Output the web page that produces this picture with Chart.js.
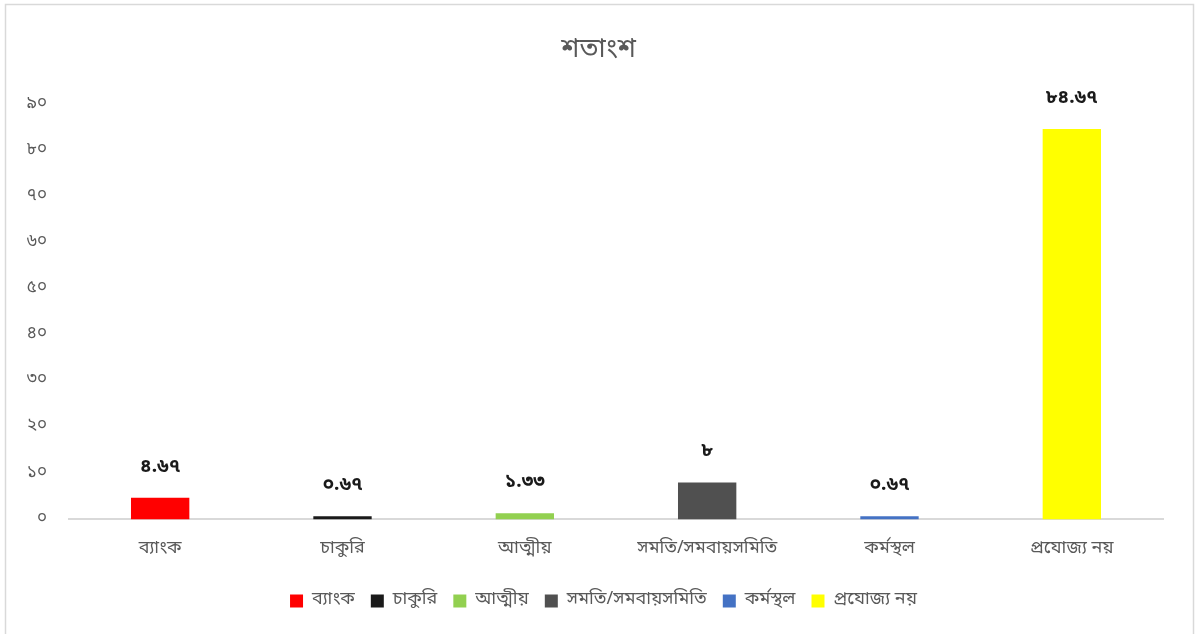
<!DOCTYPE html>
<html>
<head>
<meta charset="utf-8">
<script src="https://cdn.jsdelivr.net/npm/chart.js@4"></script>
<style>
  html, body { margin: 0; padding: 0; background: #fff; }
  #wrap { position: relative; width: 1196px; height: 634px; }
</style>
</head>
<body>
<div id="wrap"><canvas id="c" width="1196" height="634"></canvas></div>
<script>
// Response categories and their share (percent)
const categories = ['ব্যাংক', 'চাকুরি', 'আত্মীয়', 'সমতি/সমবায়সমিতি', 'কর্মস্থল', 'প্রযোজ্য নয়'];
const percentages = [4.67, 0.67, 1.33, 8, 0.67, 84.67];
const barColors = ['#FF0000', '#1A1A1A', '#92D050', '#505050', '#4472C4', '#FFFF00'];
const yTicks = [0, 10, 20, 30, 40, 50, 60, 70, 80, 90];
const chartTitle = 'শতাংশ';

const BN_DIGITS = ['০','১','২','৩','৪','৫','৬','৭','৮','৯'];
function toBengali(v) {
  return String(v).replace(/[0-9]/g, d => BN_DIGITS[+d]);
}

const FONT = "'Noto Sans Bengali', 'Lohit Bengali', 'Vrinda', 'Nirmala UI', 'Noto Sans', sans-serif";
const GREY = '#595959';

// Outer frame around the chart
const framePlugin = {
  id: 'frame',
  beforeDraw(chart) {
    const ctx = chart.ctx;
    ctx.save();
    ctx.strokeStyle = '#D9D9D9';
    ctx.lineWidth = 1.5;
    ctx.strokeRect(5.5, 4.5, 1188, 660);
    ctx.restore();
  }
};

// Centre title and legend on the whole frame rather than the padded area
const centreBoxes = {
  id: 'centreBoxes',
  afterLayout(chart) {
    const shift = (box, dx, dy) => {
      if (box) { box.left += dx; box.right += dx; box.top += dy; box.bottom += dy; }
    };
    shift(chart.titleBlock, 7, 0);
    shift(chart.legend, 12, -3);
  }
};

// Value labels above each bar
const valueLabels = {
  id: 'valueLabels',
  afterDatasetsDraw(chart) {
    const ctx = chart.ctx;
    const meta = chart.getDatasetMeta(0);
    ctx.save();
    ctx.font = "bold 19px " + FONT;
    ctx.fillStyle = '#1A1A1A';
    ctx.textAlign = 'center';
    ctx.textBaseline = 'middle';
    meta.data.forEach((bar, i) => {
      const v = chart.data.datasets[0].data[i];
      ctx.fillText(toBengali(v), bar.x, bar.y - 30);
    });
    ctx.restore();
  }
};

new Chart(document.getElementById('c'), {
  type: 'bar',
  data: {
    labels: categories,
    datasets: [{
      label: chartTitle,
      data: percentages,
      backgroundColor: barColors,
      borderWidth: 0,
      categoryPercentage: 1.0,
      barPercentage: 0.32
    }]
  },
  options: {
    responsive: false,
    animation: false,
    layout: { padding: { left: 20, right: 33, top: 32, bottom: 11 } },
    plugins: {
      title: {
        display: true,
        text: chartTitle,
        color: GREY,
        font: { family: FONT, size: 27, weight: 'normal' },
        padding: { top: 4, bottom: 36 }
      },
      legend: {
        position: 'bottom',
        labels: {
          color: GREY,
          font: { family: FONT, size: 18 },
          boxWidth: 13,
          boxHeight: 13,
          padding: 16,
          generateLabels(chart) {
            return categories.map((c, i) => ({
              text: c,
              fillStyle: barColors[i],
              strokeStyle: barColors[i],
              lineWidth: 0,
              fontColor: GREY,
              index: i
            }));
          }
        }
      },
      tooltip: { enabled: false }
    },
    scales: {
      x: {
        grid: { display: false, drawTicks: false },
        border: { color: '#D9D9D9', width: 2 },
        ticks: { color: GREY, font: { family: FONT, size: 18 }, padding: 19 }
      },
      y: {
        min: 0,
        max: 90,
        grid: { display: false, drawTicks: false },
        border: { display: false },
        afterBuildTicks(axis) { axis.ticks = yTicks.map(v => ({ value: v })); },
        afterFit(axis) { axis.width = 49; },
        ticks: {
          color: GREY,
          font: { family: FONT, size: 17 },
          padding: 22,
          callback: v => toBengali(v)
        }
      }
    }
  },
  plugins: [framePlugin, centreBoxes, valueLabels]
});
</script>
</body>
</html>
